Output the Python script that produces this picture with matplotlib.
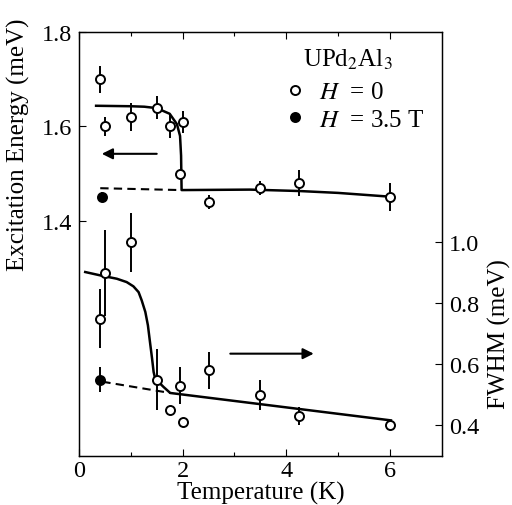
import matplotlib
matplotlib.use("Agg")
import matplotlib.pyplot as plt
from matplotlib.lines import Line2D

plt.rcParams['font.family'] = ['Liberation Serif', 'DejaVu Serif']
plt.rcParams['mathtext.fontset'] = 'stix'
plt.rcParams['font.size'] = 18

# Excitation energy (left axis), H = 0
t_energy = [0.4, 0.5, 1.0, 1.5, 1.75, 2.0, 1.95, 2.5, 3.5, 4.25, 6.0]
energy = [1.70, 1.60, 1.62, 1.64, 1.60, 1.61, 1.50, 1.44, 1.47, 1.48, 1.45]
energy_err = [0.028, 0.02, 0.03, 0.025, 0.025, 0.023, 0.0, 0.015, 0.015, 0.028, 0.03]
# H = 3.5 T
t_energy_field = [0.45]
energy_field = [1.45]
energy_field_err = [0.01]

# FWHM (right axis), H = 0
t_width = [0.4, 0.5, 1.0, 1.5, 1.75, 1.95, 2.0, 2.5, 3.5, 4.25, 6.0]
width = [0.75, 0.90, 1.00, 0.55, 0.45, 0.53, 0.41, 0.58, 0.50, 0.43, 0.40]
width_err = [0.098, 0.14, 0.098, 0.10, 0.0, 0.06, 0.0, 0.06, 0.05, 0.03, 0.0]
# H = 3.5 T
t_width_field = [0.4]
width_field = [0.55]
width_field_err = [0.04]

# guide lines
fit_e_t = [0.33, 1.0, 1.26, 1.5, 1.75, 1.89, 1.95, 1.97, 1.98, 3.3, 4.25, 5.0, 6.0]
fit_e = [1.644, 1.643, 1.642, 1.639, 1.627, 1.605, 1.580, 1.538, 1.465, 1.466, 1.463, 1.459, 1.451]
dash_e_t = [0.41, 1.97]
dash_e = [1.469, 1.465]

fit_w_t = [0.12, 0.41, 0.73, 0.92, 1.05, 1.15, 1.21, 1.28, 1.33, 1.37, 1.41, 1.44, 1.47,
           1.63, 1.76, 6.02]
fit_w = [0.903, 0.892, 0.881, 0.870, 0.856, 0.837, 0.810, 0.772, 0.728, 0.673, 0.619,
         0.575, 0.553, 0.526, 0.506, 0.416]
dash_w_t = [0.45, 1.76]
dash_w = [0.543, 0.506]

fig = plt.figure(figsize=(5.12, 5.06), dpi=100)
ax = fig.add_axes([0.1543, 0.0974, 0.7084, 0.8368])
ax2 = ax.twinx()

# energy panel
ax.plot(fit_e_t, fit_e, color='k', lw=1.8, zorder=2)
ax.plot(dash_e_t, dash_e, color='k', lw=1.5, ls=(0, (4, 2.5)), zorder=2)
ax.errorbar(t_energy, energy, yerr=energy_err, fmt='o', mfc='white', mec='k', ecolor='k',
            elinewidth=1.4, capsize=0, ms=6.5, mew=1.4, zorder=3)
ax.errorbar(t_energy_field, energy_field, yerr=energy_field_err, fmt='o', mfc='k', mec='k',
            ecolor='k', elinewidth=1.4, capsize=0, ms=6.5, mew=1.4, zorder=3)
ax.annotate('', xy=(0.44, 1.542), xytext=(1.5, 1.542),
            arrowprops=dict(arrowstyle='-|>', color='k', lw=1.5, mutation_scale=16,
                            shrinkA=0, shrinkB=0))

# width panel
ax2.plot(fit_w_t, fit_w, color='k', lw=1.8, zorder=2)
ax2.plot(dash_w_t, dash_w, color='k', lw=1.5, ls=(0, (4, 2.5)), zorder=2)
ax2.errorbar(t_width, width, yerr=width_err, fmt='o', mfc='white', mec='k', ecolor='k',
             elinewidth=1.4, capsize=0, ms=6.5, mew=1.4, zorder=3)
ax2.errorbar(t_width_field, width_field, yerr=width_field_err, fmt='o', mfc='k', mec='k',
             ecolor='k', elinewidth=1.4, capsize=0, ms=6.5, mew=1.4, zorder=3)
ax2.annotate('', xy=(4.53, 0.635), xytext=(2.92, 0.635),
             arrowprops=dict(arrowstyle='-|>', color='k', lw=1.5, mutation_scale=16,
                             shrinkA=0, shrinkB=0))

ax.set_xlim(0, 7)
ax.set_ylim(0.901, 1.8)
ax2.set_ylim(0.30, 1.69)

ax.set_xticks([0, 2, 4, 6])
ax.set_xticks([1, 3, 5], minor=True)
ax.set_yticks([1.4, 1.6, 1.8])
ax.set_yticklabels(['1.4', '1.6', '1.8'])
ax2.set_yticks([0.4, 0.6, 0.8, 1.0])
ax2.set_yticklabels(['0.4', '0.6', '0.8', '1.0'])

ax.tick_params(which='both', direction='in', top=True, right=False, width=0.8,
               labelsize=17.5)
ax.tick_params(axis='x', pad=3)
ax.tick_params(axis='y', pad=5)
ax.tick_params(which='major', length=5)
ax.tick_params(which='minor', length=3)
ax2.tick_params(direction='in', length=5, width=0.8, pad=5, labelsize=17.5)
for a in (ax, ax2):
    for s in a.spines.values():
        s.set_linewidth(0.9)

ax.set_xlabel('Temperature (K)')
ax.xaxis.label.set_va('baseline')
ax.xaxis.set_label_coords(0.5, -0.102)
ax.set_ylabel('Excitation Energy (meV)')
ax.yaxis.set_label_coords(-0.135, 0.736)
ax2.set_ylabel('FWHM (meV)')
ax2.yaxis.set_label_coords(1.127, 0.29)

ax2.text(0.617, 0.921, 'UPd$_2$Al$_3$', transform=ax2.transAxes, ha='left', va='baseline')
handles = [
    Line2D([], [], ls='none', marker='o', mfc='white', mec='k', ms=6.5, mew=1.4),
    Line2D([], [], ls='none', marker='o', mfc='k', mec='k', ms=6.5, mew=1.4),
]
ax2.legend(handles, ['$H$  = 0', '$H$  = 3.5 T'],
           loc='upper left', bbox_to_anchor=(0.576, 0.885), frameon=False, borderpad=0,
           borderaxespad=0, handlelength=0.6, handletextpad=0.65, labelspacing=0.2)

fig.savefig('out.png', dpi=100)
